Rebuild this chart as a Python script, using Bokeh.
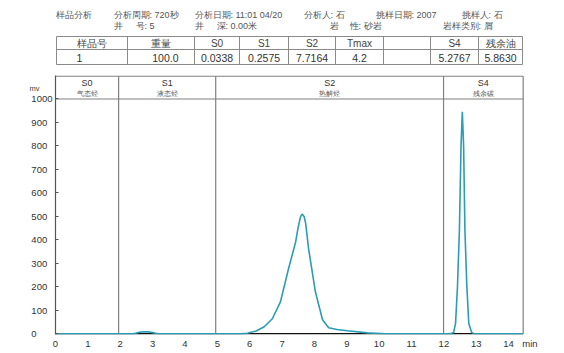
from bokeh.plotting import figure
from bokeh.models import Range1d, FixedTicker, LinearAxis, ColumnDataSource
from bokeh.layouts import column
from bokeh.embed import file_html
from bokeh.resources import INLINE
from bokeh.core.properties import value

# ---------------- data ----------------
info_row1 = ["样品分析", "分析周期: 720秒", "分析日期: 11:01 04/20", "分析人: 石", "挑样日期: 2007", "挑样人: 石"]
info_row2 = ["井", "号: 5", "井", "深: 0.00米", "岩", "性: 砂岩", "岩样类别: 屑"]
table_headers = ["样品号", "重量", "S0", "S1", "S2", "Tmax", "", "S4", "残余油"]
table_values = ["1", "100.0", "0.0338", "0.2575", "7.7164", "4.2", "", "5.2767", "5.8630"]

region_names = ["S0", "S1", "S2", "S4"]
region_descs = ["气态烃", "液态烃", "热解烃", "残余碳"]
region_bounds = [0, 1.95, 4.95, 11.99, 14.45]

time_min = [0, 2.40, 2.50, 2.60, 2.75, 2.90, 3.00, 3.10, 3.20,
            5.70, 5.93, 6.20, 6.45, 6.70, 6.95, 7.20, 7.42, 7.50, 7.57, 7.62, 7.68, 7.73,
            7.82, 8.03, 8.25, 8.44, 8.70, 9.02, 9.64, 10.2,
            12.20, 12.30, 12.36, 12.42, 12.48, 12.53, 12.57, 12.61, 12.65, 12.71, 12.77,
            12.86, 12.95, 14.45]
signal_mv = [0, 0, 3, 7, 9, 8, 5, 2, 0,
             0, 2, 12, 30, 64, 136, 277, 391, 455, 498, 510, 500, 470,
             362, 179, 60, 26, 18, 13, 4, 0,
             0, 5, 43, 200, 443, 800, 945, 800, 443, 200, 43,
             5, 0, 0]

x_ticks = list(range(0, 15))
y_ticks = list(range(0, 1001, 100))
x_unit_pos = 14.66
y_unit_pos = 1043

FONT = "Liberation Sans"
BOX = "#808080"

# ---------------- chart figure ----------------
X_END = 14.8
Y_TOP = 1097
p = figure(width=564, height=279, x_range=Range1d(0, X_END), y_range=Range1d(-3, 1100),
           toolbar_location=None, output_backend="svg",
           min_border_left=55, min_border_right=30, min_border_top=1, min_border_bottom=19)
p.grid.visible = False
p.outline_line_color = None

p.xaxis.ticker = FixedTicker(ticks=x_ticks + [x_unit_pos])
p.xaxis.major_label_overrides = {x_unit_pos: "min"}
p.xaxis.axis_line_color = None
p.xaxis.major_tick_out = 0
p.xaxis.major_tick_in = 0
p.xaxis.minor_tick_line_color = None
p.xaxis.major_label_standoff = 3
p.xaxis.major_label_text_font = FONT
p.xaxis.major_label_text_font_size = "9.5px"
p.xaxis.major_label_text_color = "#333333"

# y tick labels appear left-aligned in the reference: pad with figure spaces
max_len = max(len(str(t)) for t in y_ticks)
p.yaxis.ticker = FixedTicker(ticks=y_ticks)
p.yaxis.major_label_overrides = {t: str(t) + "\u2007" * (max_len - len(str(t))) for t in y_ticks}
p.yaxis.axis_line_color = "#555555"
p.yaxis.axis_line_width = 1.2
p.yaxis.major_tick_out = 0
p.yaxis.major_tick_in = 3
p.yaxis.major_tick_line_color = "#555555"
p.yaxis.minor_tick_line_color = None
p.yaxis.major_label_standoff = 3
p.yaxis.major_label_text_font = FONT
p.yaxis.major_label_text_font_size = "9.5px"
p.yaxis.major_label_text_color = "#333333"

unit_axis = LinearAxis(ticker=FixedTicker(ticks=[y_unit_pos]),
                       major_label_overrides={y_unit_pos: "mv"})
unit_axis.axis_line_color = None
unit_axis.major_tick_line_color = None
unit_axis.minor_tick_line_color = None
unit_axis.major_label_standoff = -17
unit_axis.major_label_text_font = FONT
unit_axis.major_label_text_font_size = "7.5px"
unit_axis.major_label_text_color = "#444444"
p.add_layout(unit_axis, "left")

# box: bottom axis line, top edge, right edge, header separator, region separators
x_left, x_right = region_bounds[0], region_bounds[-1]
p.segment(x0=[x_left], x1=[x_right], y0=[0], y1=[0], line_color="#111111", line_width=1.5)
p.segment(x0=[x_left, x_left], x1=[x_right, x_right], y0=[Y_TOP, y_ticks[-1]],
          y1=[Y_TOP, y_ticks[-1]], line_color=BOX, line_width=1.2)
p.segment(x0=region_bounds[1:], x1=region_bounds[1:], y0=[0] * 4, y1=[Y_TOP] * 4,
          line_color=BOX, line_width=1.2)

reg_centers = [(a + b) / 2 for a, b in zip(region_bounds[:-1], region_bounds[1:])]
p.text(x=reg_centers, y=[1066] * 4, text=region_names, text_font=value(FONT),
       text_font_size="9px", text_color="#333333", text_align="center", text_baseline="middle")
p.text(x=reg_centers, y=[1024] * 4, text=region_descs, text_font=value(FONT),
       text_font_size="7px", text_color="#555555", text_align="center", text_baseline="middle")

src = ColumnDataSource(dict(t=time_min, mv=signal_mv))
p.line("t", "mv", source=src, line_color="#2b9cb5", line_width=1.6)

# ---------------- header figure (pixel coordinates, frame aligned with chart) ----------------
hdr = figure(width=564, height=74, x_range=Range1d(55, 534), y_range=Range1d(74, 0),
             x_axis_type=None, y_axis_type=None, toolbar_location=None,
             output_backend="svg", min_border_left=55, min_border_right=30,
             min_border_top=0, min_border_bottom=0)
hdr.outline_line_color = None
hdr.grid.visible = False

row1_x = [55, 113, 194, 303, 375, 461]
row2_x = [113, 135, 194, 216, 329, 349, 442]
hdr.text(x=row1_x, y=[14] * len(info_row1), text=info_row1, text_font=value(FONT),
         text_font_size="9px", text_color="#555555", text_baseline="middle")
hdr.text(x=row2_x, y=[25] * len(info_row2), text=info_row2, text_font=value(FONT),
         text_font_size="9px", text_color="#555555", text_baseline="middle")

col_edges = [56, 127, 194, 239, 288, 335, 383, 430, 478, 522]
t_top, t_mid, t_bot = 36, 49, 64
hdr.segment(x0=[col_edges[0]] * 3, x1=[col_edges[-1]] * 3, y0=[t_top, t_mid, t_bot],
            y1=[t_top, t_mid, t_bot], line_color="#8a8a8a", line_width=1)
hdr.segment(x0=col_edges, x1=col_edges, y0=[t_top] * len(col_edges), y1=[t_bot] * len(col_edges),
            line_color="#8a8a8a", line_width=1)
centers = [(a + b) / 2 for a, b in zip(col_edges[:-1], col_edges[1:])]
hdr.text(x=centers, y=[(t_top + t_mid) / 2 + 0.5] * len(centers), text=table_headers,
         text_font=value(FONT), text_font_size="10px", text_color="#444444",
         text_align="center", text_baseline="middle")
val_x = list(centers)
val_align = ["center"] * len(centers)
val_x[0] = 79
val_x[1] = col_edges[2] - 16
val_align[1] = "right"
hdr.text(x=val_x, y=[(t_mid + t_bot) / 2 + 0.5] * len(centers), text=table_values,
         text_font=value(FONT), text_font_size="10.5px", text_color="#333333",
         text_align=val_align, text_baseline="middle")

layout = column(hdr, p, spacing=0)
open("out.html", "w").write(file_html(layout, INLINE))
